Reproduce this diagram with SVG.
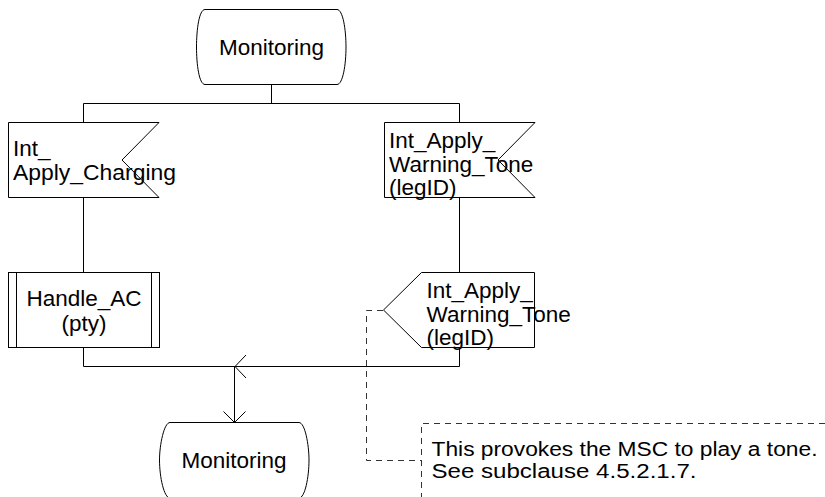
<svg xmlns="http://www.w3.org/2000/svg" width="825" height="497" viewBox="0 0 825 497">
<style>
.s{fill:#fff;stroke:#000;stroke-width:1}
.l{fill:none;stroke:#000;stroke-width:1}
.d{fill:none;stroke:#333;stroke-width:1;stroke-dasharray:6,5}
text{font-family:"Liberation Sans",Arial,sans-serif;font-size:22.5px;fill:#000}
.m{text-anchor:middle}
.n{font-size:19.5px}
</style>
<g id="connectors">
<path class="l" d="M271.5,84.5 V103.5 M83.5,103.5 H459.5"/>
<path class="l" d="M83.5,103.5 V122.5 M83.5,197.5 V272.5 M83.5,347.5 V366.5 H459.5 V347.5"/>
<path class="l" d="M459.5,103.5 V122.5 M459.5,197.5 V272.5"/>
<path class="l" d="M246,355 L235,366.5 L246,378"/>
<path class="l" d="M234.5,366.5 V422.5 M223.5,411.5 L234.5,422.5 L245.5,411.5"/>
<path class="d" d="M383,310.5 H366.5 V460.5 H421.5"/>
</g>
<g id="monitoring_top">
<path class="s" d="M205,9.5 H337 C343,9.5 346,30 346,47 C346,64 343,84.5 337,84.5 H205 C199,84.5 196.5,64 196.5,47 C196.5,30 199,9.5 205,9.5 Z"/>
<text class="m" x="271.5" y="55">Monitoring</text>
</g>
<g id="input_charging">
<path class="s" d="M8.5,122.5 H159 L122,160 L159,197.5 H8.5 Z"/>
<text x="13" y="156">Int_</text>
<text x="13" y="180" textLength="163" lengthAdjust="spacingAndGlyphs">Apply_Charging</text>
</g>
<g id="input_tone">
<path class="s" d="M384.5,122.5 H535 L498,160 L535,197.5 H384.5 Z"/>
<text x="389" y="148">Int_Apply_</text>
<text x="389" y="171.5">Warning_Tone</text>
<text x="389" y="195">(legID)</text>
</g>
<g id="handle_ac">
<rect class="s" x="8.5" y="272.5" width="151" height="75"/>
<path class="l" d="M16.5,272.5 V347.5 M151.5,272.5 V347.5"/>
<text class="m" x="84" y="306">Handle_AC</text>
<text class="m" x="84" y="331">(pty)</text>
</g>
<g id="output_tone">
<path class="s" d="M421.5,272.5 H534.5 V347.5 H421.5 L383.5,310 Z"/>
<text x="426.5" y="298">Int_Apply_</text>
<text x="426.5" y="321.5">Warning_Tone</text>
<text x="426.5" y="345">(legID)</text>
</g>
<g id="monitoring_bottom">
<path class="s" d="M170,422.5 H299 C305,422.5 309,445 309,460 C309,477 305,498 299,498 H170 C164,498 159.5,477 159.5,460 C159.5,445 164,422.5 170,422.5 Z"/>
<text class="m" x="234" y="468">Monitoring</text>
</g>
<g id="comment">
<path class="d" d="M825,423.5 H421.5 V497"/>
<text class="n" x="431.5" y="455.5" textLength="386" lengthAdjust="spacingAndGlyphs">This provokes the MSC to play a tone.</text>
<text class="n" x="431.5" y="478" textLength="265" lengthAdjust="spacingAndGlyphs">See subclause 4.5.2.1.7.</text>
</g>
</svg>
